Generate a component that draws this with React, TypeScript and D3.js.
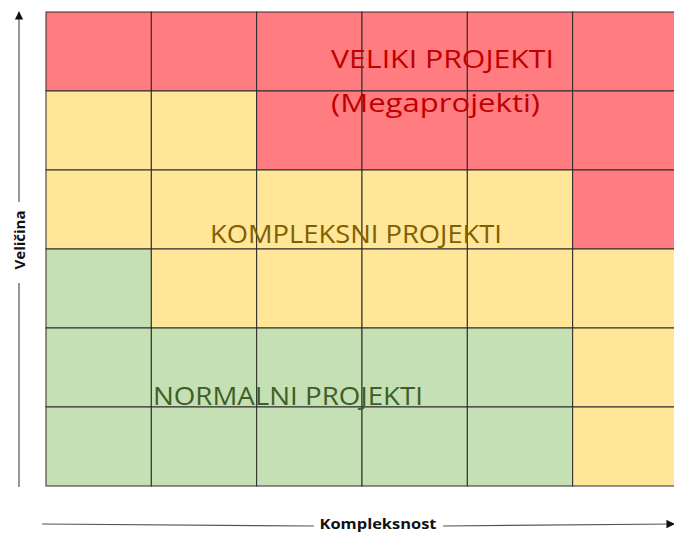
import React from 'react';
import * as d3 from 'd3';

const width = 674;
const height = 534;

// size levels (top = biggest) and complexity levels
const sizeLevels = ['6', '5', '4', '3', '2', '1'];
const complexityLevels = ['1', '2', '3', '4', '5', '6'];

// zone of each cell, one array per row from the top
const row6 = ['veliki', 'veliki', 'veliki', 'veliki', 'veliki', 'veliki'];
const row5 = ['kompleksni', 'kompleksni', 'veliki', 'veliki', 'veliki', 'veliki'];
const row4 = ['kompleksni', 'kompleksni', 'kompleksni', 'kompleksni', 'kompleksni', 'veliki'];
const row3 = ['normalni', 'kompleksni', 'kompleksni', 'kompleksni', 'kompleksni', 'kompleksni'];
const row2 = ['normalni', 'normalni', 'normalni', 'normalni', 'normalni', 'kompleksni'];
const row1 = ['normalni', 'normalni', 'normalni', 'normalni', 'normalni', 'kompleksni'];
const zoneRows = [row6, row5, row4, row3, row2, row1];

const zoneColors = {
  veliki: '#FF7C80',
  kompleksni: '#FFE699',
  normalni: '#C5E0B4'
};

const xLabel = 'Kompleksnost';
const yLabel = 'Veličina';

const font = "'Open Sans', 'Liberation Sans', sans-serif";

export default function App() {
  const x = d3.scaleBand().domain(complexityLevels).range([46, 678]);
  const y = d3.scaleBand().domain(sizeLevels).range([12, 486]);

  const cells = [];
  zoneRows.forEach((row, i) => {
    row.forEach((zone, j) => {
      cells.push({ size: sizeLevels[i], cx: complexityLevels[j], zone });
    });
  });

  return (
    <svg width={width} height={height} style={{ position: 'absolute', left: 0, top: 0, background: '#fff' }}>
      <defs>
        <marker id="arrow" viewBox="0 0 10 10" refX="9" refY="5" markerWidth="7" markerHeight="7" orient="auto">
          <path d="M0,0 L10,5 L0,10 z" fill="#111" />
        </marker>
      </defs>

      {cells.map((c, i) => (
        <rect
          key={i}
          x={x(c.cx)}
          y={y(c.size)}
          width={x.bandwidth()}
          height={y.bandwidth()}
          fill={zoneColors[c.zone]}
          stroke="#2b2b2b"
          strokeWidth={1}
        />
      ))}

      <g fontFamily={font}>
        <text x={331} y={68} fontSize={26} fill="#C00000" textLength={223} lengthAdjust="spacingAndGlyphs">
          VELIKI PROJEKTI
        </text>
        <text x={331} y={112} fontSize={26} fill="#C00000" textLength={209} lengthAdjust="spacingAndGlyphs">
          (Megaprojekti)
        </text>
        <text x={210} y={243} fontSize={26} fill="#7F6000" textLength={292} lengthAdjust="spacingAndGlyphs">
          KOMPLEKSNI PROJEKTI
        </text>
        <text x={153} y={405} fontSize={26} fill="#3F5F26" textLength={270} lengthAdjust="spacingAndGlyphs">
          NORMALNI PROJEKTI
        </text>
      </g>

      {/* y axis */}
      <line x1={19} y1={487} x2={19} y2={283} stroke="#555" strokeWidth={1.2} />
      <line x1={19} y1={202} x2={19} y2={12} stroke="#555" strokeWidth={1.2} markerEnd="url(#arrow)" />
      <text
        transform="translate(25,240) rotate(-90)"
        textAnchor="middle"
        fontFamily={font}
        fontWeight="bold"
        fontSize={15}
        fill="#111"
      >
        {yLabel}
      </text>

      {/* x axis */}
      <line x1={42} y1={524} x2={314} y2={526} stroke="#555" strokeWidth={1.2} />
      <line x1={443} y1={526} x2={674} y2={524} stroke="#555" strokeWidth={1.2} markerEnd="url(#arrow)" />
      <text
        x={378}
        y={529}
        textAnchor="middle"
        fontFamily={font}
        fontWeight="bold"
        fontSize={15}
        fill="#111"
        textLength={117}
        lengthAdjust="spacingAndGlyphs"
      >
        {xLabel}
      </text>
    </svg>
  );
}
